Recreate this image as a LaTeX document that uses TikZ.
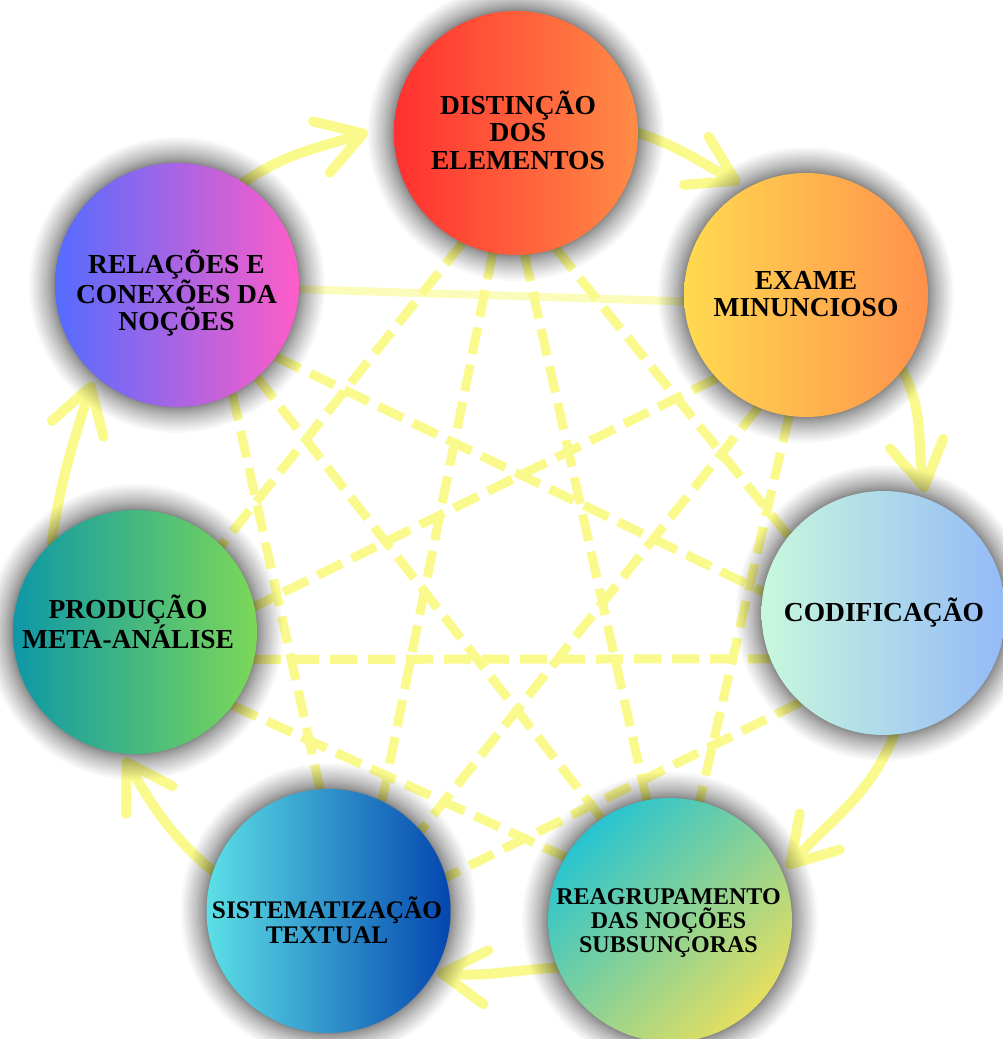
\documentclass[tikz,border=0pt]{standalone}
\usepackage{fontspec}
\setmainfont{Liberation Serif}
\usetikzlibrary{arrows.meta}
\definecolor{ylw}{RGB}{250,250,140}
\definecolor{dA}{RGB}{255,48,48}\definecolor{dB}{RGB}{255,140,70}
\definecolor{eA}{RGB}{255,218,80}\definecolor{eB}{RGB}{255,145,75}
\definecolor{cA}{RGB}{200,248,220}\definecolor{cB}{RGB}{148,186,248}
\definecolor{rA}{RGB}{40,196,208}\definecolor{rB}{RGB}{228,222,96}
\definecolor{sA}{RGB}{92,224,230}\definecolor{sB}{RGB}{4,70,176}
\definecolor{pA}{RGB}{14,152,168}\definecolor{pB}{RGB}{124,216,88}
\definecolor{lA}{RGB}{84,108,255}\definecolor{lB}{RGB}{255,92,200}
\pgfdeclarelayer{bgwhite}
\pgfdeclarelayer{lines}
\pgfdeclarelayer{shade}
\pgfsetlayers{bgwhite,lines,shade,main}
\begin{document}
\begin{tikzpicture}[x=1pt,y=1pt,
  bubble/.style={circle, minimum size=244pt, inner sep=0pt, draw=none},
  lbl/.style={font=\bfseries\fontsize{27.5}{27.5}\selectfont, align=center, inner sep=0pt, text=black},
  link/.style={draw=ylw, line width=9pt, dash pattern=on 27pt off 11pt},
  plainlink/.style={draw=ylw, line width=8pt, opacity=0.6},
  flow/.style={draw=ylw, line width=10pt, line cap=round, -{Straight Barb[length=44pt,width=54pt,round]}}]

\begin{pgfonlayer}{bgwhite}
\fill[white] (0,0) rectangle (1003,1039);
\end{pgfonlayer}
\useasboundingbox (0,0) rectangle (1003,1039);

% circles
\node[bubble, left color=dA, right color=dB] (D) at (516,906) {};
\node[bubble, left color=eA, right color=eB] (E) at (806,744) {};
\node[bubble, left color=cA, right color=cB] (C) at (883.5,426) {};
\node[bubble, top color=rA, bottom color=rB, shading angle=45] (R) at (670,119) {};
\node[bubble, left color=sA, right color=sB] (S) at (328.5,128) {};
\node[bubble, left color=pA, right color=pB] (P) at (135,407) {};
\node[bubble, left color=lA, right color=lB] (L) at (177,754) {};

% labels
\node[lbl] (Dt) at (518,909) {DISTINÇÃO\\DOS\\ELEMENTOS};
\node[lbl] (Et) at (806,745) {EXAME\\MINUNCIOSO};
\node[lbl] (Ct) at (884,426) {CODIFICAÇÃO};
\node[lbl, font=\bfseries\fontsize{24}{24}\selectfont] (Rt) at (668.5,115.5) {REAGRUPAMENTO\\DAS NOÇÕES\\SUBSUNÇORAS};
\node[lbl, font=\bfseries\fontsize{25.3}{25}\selectfont] (St) at (327,119) {SISTEMATIZAÇÃO\\TEXTUAL};
\node[lbl] (Pt) at (128,417) {PRODUÇÃO\\META-ANÁLISE};
\node[lbl] (Lt) at (176.5,746) {RELAÇÕES E\\CONEXÕES DA\\NOÇÕES};

% arrow tips
\coordinate (t1) at (368,907);
\coordinate (t2) at (740,856);
\coordinate (t3) at (925,547);
\coordinate (t4) at (787,171);
\coordinate (t5) at (437,66);
\coordinate (t6) at (124,281);
\coordinate (t7) at (92,657);

\begin{pgfonlayer}{lines}
\draw[link] (D.-116) -- (P.45);
\draw[link] (D.-101) -- (S.64);
\draw[link] (D.-86) -- (R.101);
\draw[link] (D.-71) -- (C.141);
\draw[link] (E.-137) -- (P.12);
\draw[link] (E.-113) -- (S.41);
\draw[link] (E.-98) -- (R.76);
\draw[plainlink] (L.-2) -- (E.183);
\draw[link] (L.-63) -- (S.94);
\draw[link] (L.-49) -- (R.124);
\draw[link] (L.-36) -- (C.170);
\draw[link] (P.-13) -- (C.202);
\draw[link] (P.-37) -- (R.149);
\draw[link] (C.-133) -- (S.16);

\draw[flow] (L.57) to[out=35,in=198] (t1);
\draw[flow] (D.0) to[out=-18,in=153] (t2);
\draw[flow] (E.-38) to[out=-62,in=100] (t3);
\draw[flow] (C.-85) to[out=-112,in=48] (t4);
\draw[flow] (R.-157) to[out=183,in=-5] (t5);
\draw[flow] (S.161) to[out=140,in=-59] (t6);
\draw[flow] (P.133) to[out=82,in=-107] (t7);
\end{pgfonlayer}

\begin{pgfonlayer}{shade}
\foreach \n in {D,E,C,R,S,P,L}{
  \foreach \k in {1,...,30}{
    \fill[black, opacity=0.023] (\n.center) circle [radius={(121+0.03*\k*\k)*1pt}];
  }
}
\end{pgfonlayer}
\end{tikzpicture}
\end{document}
